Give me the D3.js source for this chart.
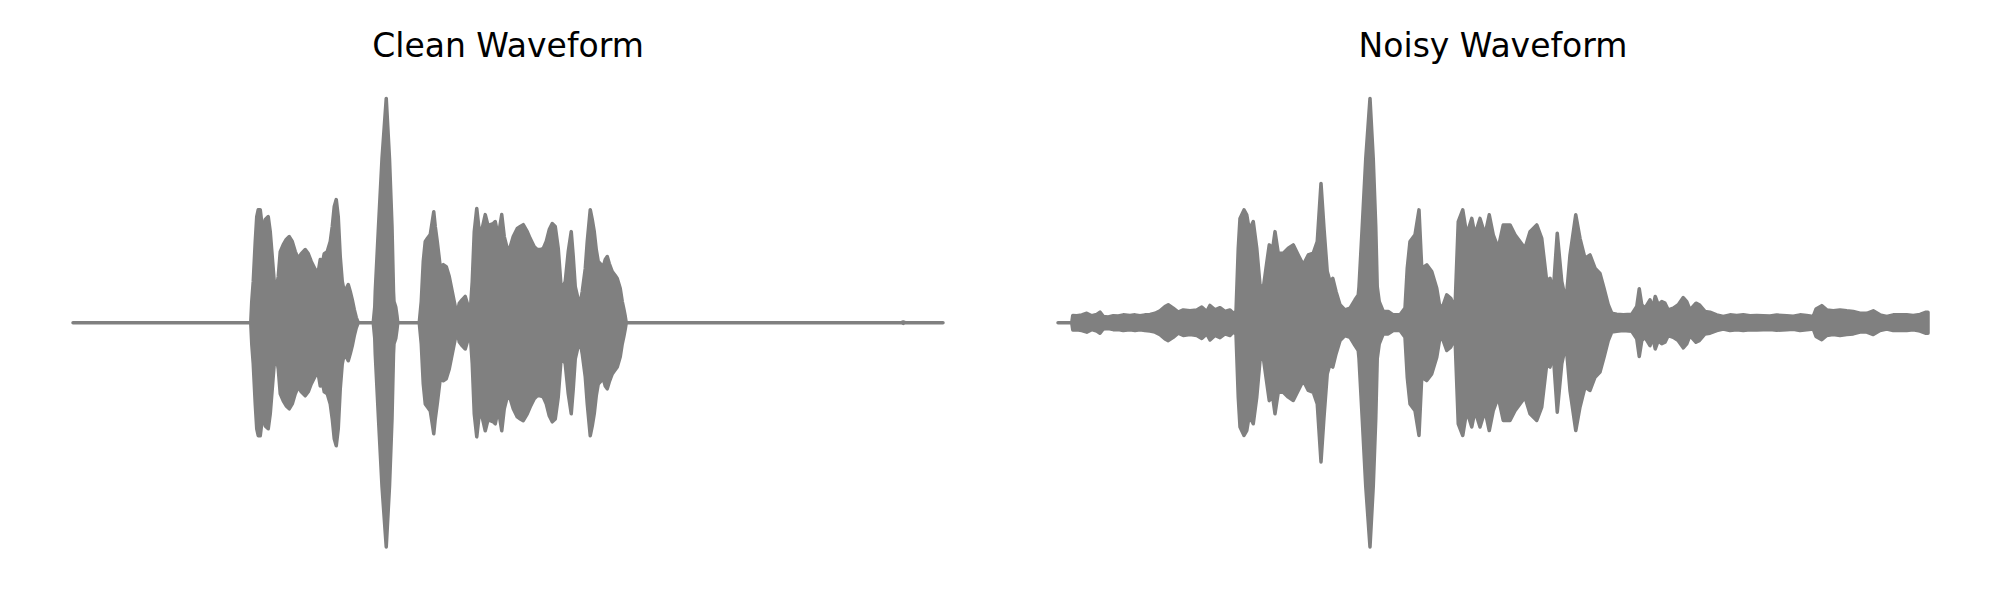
<!DOCTYPE html>
<html>
<head>
<meta charset="utf-8">
<script src="https://cdn.jsdelivr.net/npm/d3@7"></script>
<style>
  html, body { margin: 0; padding: 0; background: #ffffff; }
  svg { display: block; }
</style>
</head>
<body>
<svg id="chart" width="2000" height="600"></svg>
<script>
// ---------- data (time in ms, amplitude = envelope, normalised to the loudest peak) ----------
const panelTitles = ["Clean Waveform", "Noisy Waveform"];
const durationMs = 3480;

const cleanTime = [0,711,715,721,729,735,741,749,757,763,769,781,789,797,805,813,821,829,841,853,865,877,889,901,913,929,941,953,969,981,989,997,1005,1017,1029,1037,1045,1053,1061,1069,1077,1085,1093,1101,1109,1117,1125,1133,1141,
  1201,1207,1209,1222,1236,1253,1266,1276,1282,1284,1291,1296,1299,
  1385,1393,1401,1409,1417,1429,1437,1443,1449,1457,1469,1481,1493,1505,1517,1529,1537,1545,1557,1569,1581,1589,1597,1605,1615,1623,1631,1641,1649,1661,1669,1681,1689,1701,1715,1725,1737,1749,1761,1777,1789,1801,1817,1829,1845,1857,1869,1881,1893,1905,1917,1929,1941,1953,1961,1969,1981,1993,2001,2009,2021,2029,2037,2049,2057,2069,2077,2085,2093,2101,2113,2121,2129,2137,2145,2157,2169,2177,2189,2197,2203,2209,2213,
  3313,3321,3329,3480];
const cleanAmp = [0,0,0.094,0.184,0.362,0.473,0.504,0.504,0.429,0.406,0.460,0.473,0.406,0.295,0.184,0.148,0.206,0.317,0.348,0.371,0.384,0.362,0.317,0.286,0.308,0.326,0.308,0.273,0.237,0.228,0.282,0.264,0.308,0.317,0.362,0.429,0.518,0.549,0.473,0.295,0.184,0.139,0.152,0.170,0.139,0.103,0.059,0.023,0,
  0,0.070,0.139,0.430,0.730,1.0,0.730,0.430,0.139,0.094,0.070,0.030,0,
  0,0.094,0.273,0.362,0.375,0.393,0.451,0.495,0.429,0.362,0.250,0.259,0.250,0.206,0.139,0.072,0.041,0.086,0.103,0.117,0.072,0.050,0.184,0.406,0.509,0.429,0.393,0.442,0.482,0.429,0.437,0.442,0.451,0.384,0.482,0.384,0.331,0.339,0.384,0.420,0.429,0.437,0.406,0.375,0.339,0.326,0.326,0.331,0.362,0.415,0.442,0.429,0.331,0.152,0.161,0.184,0.317,0.406,0.295,0.161,0.103,0.086,0.139,0.241,0.362,0.504,0.460,0.406,0.326,0.273,0.259,0.250,0.282,0.295,0.264,0.228,0.210,0.197,0.152,0.094,0.063,0.028,0,
  0,0.003,0,0];

const noisyTime = [0,55,59,75,95,115,135,155,168,181,201,221,241,261,288,308,328,348,368,388,408,428,441,461,481,501,528,555,575,595,608,628,648,668,688,701,712,
  721,728,744,755,765,781,795,808,821,832,845,859,868,881,901,921,941,961,981,1001,1021,1037,1052,1064,1077,1088,1099,1112,1128,1148,1168,1188,1201,1204,1217,1231,1248,1261,1271,1277,1285,1301,1321,1341,1368,1388,1397,1408,1428,1444,1455,1475,1495,1515,1528,1541,1555,1571,1588,1601,1619,1635,1655,1668,1688,1708,1725,1741,1761,1781,1808,1828,1848,1868,1888,1915,1935,1955,1968,1981,1997,2015,2032,2048,2071,2088,2108,2128,2148,2168,2184,2201,2215,
  2235,2261,2295,2315,2325,2335,2348,2368,2379,2389,2401,2415,2428,2441,2461,2481,2501,2515,2528,2552,2565,2588,2608,2635,2661,2688,2715,2741,2768,2795,2821,2848,2875,2915,2941,2968,2995,3021,3032,3055,3075,3101,3128,3155,3181,3208,3235,3261,3288,3315,3341,3368,3395,3421,3448,3472,3480];
const noisyAmp = [0,0,0.032,0.031,0.035,0.042,0.031,0.037,0.047,0.028,0.026,0.031,0.030,0.035,0.032,0.035,0.031,0.035,0.037,0.042,0.053,0.072,0.080,0.065,0.047,0.057,0.053,0.057,0.070,0.050,0.077,0.057,0.067,0.050,0.057,0.042,0.050,
  0.332,0.465,0.503,0.481,0.414,0.451,0.332,0.169,0.154,0.243,0.347,0.332,0.406,0.310,0.310,0.332,0.347,0.302,0.258,0.302,0.310,0.362,0.621,0.421,0.228,0.184,0.198,0.139,0.080,0.057,0.065,0.102,0.124,0.160,0.430,0.730,1.0,0.730,0.430,0.160,0.094,0.050,0.050,0.035,0.035,0.065,0.243,0.362,0.392,0.503,0.243,0.258,0.228,0.154,0.065,0.080,0.124,0.109,0.065,0.451,0.503,0.392,0.465,0.392,0.465,0.392,0.481,0.392,0.332,0.436,0.436,0.392,0.362,0.332,0.406,0.436,0.376,0.184,0.198,0.139,0.399,0.184,0.094,0.302,0.481,0.376,0.287,0.302,0.243,0.220,0.154,0.080,0.042,
  0.038,0.035,0.038,0.072,0.151,0.080,0.065,0.102,0.065,0.117,0.080,0.094,0.087,0.057,0.065,0.080,0.112,0.094,0.057,0.087,0.080,0.050,0.047,0.035,0.028,0.035,0.032,0.035,0.031,0.032,0.031,0.030,0.034,0.031,0.029,0.035,0.032,0.028,0.061,0.076,0.057,0.053,0.057,0.053,0.050,0.042,0.042,0.053,0.035,0.028,0.035,0.035,0.035,0.032,0.037,0.047,0.047];

// ---------- drawing ----------
const svg = d3.select("#chart");
svg.append("rect").attr("width", 2000).attr("height", 600).attr("fill", "#ffffff");

const panels = [
  { title: panelTitles[0], time: cleanTime, amp: cleanAmp, range: [73, 943] },
  { title: panelTitles[1], time: noisyTime, amp: noisyAmp, range: [1058, 1928] }
];

const y = d3.scaleLinear().domain([-1, 1]).range([547, 98.4]);
const waveColor = "#808080";

panels.forEach(p => {
  const n = Math.min(p.time.length, p.amp.length);
  if (p.time.length !== p.amp.length) console.error("length mismatch", p.title, p.time.length, p.amp.length);
  const data = d3.range(n).map(i => ({ t: p.time[i], a: p.amp[i] }));
  const x = d3.scaleLinear().domain([0, durationMs]).range(p.range);

  const area = d3.area()
    .x(d => x(d.t))
    .y0(d => y(-d.a))
    .y1(d => y(d.a))
    .curve(d3.curveLinear);

  const g = svg.append("g");
  g.append("path")
    .datum(data)
    .attr("d", area)
    .attr("fill", waveColor)
    .attr("stroke", waveColor)
    .attr("stroke-width", 3.5)
    .attr("stroke-linejoin", "round");

  g.append("text")
    .attr("x", (p.range[0] + p.range[1]) / 2)
    .attr("y", 56.5)
    .attr("text-anchor", "middle")
    .attr("font-family", "DejaVu Sans, sans-serif")
    .attr("font-size", 33)
    .attr("fill", "#000000")
    .text(p.title);
});
</script>
</body>
</html>
